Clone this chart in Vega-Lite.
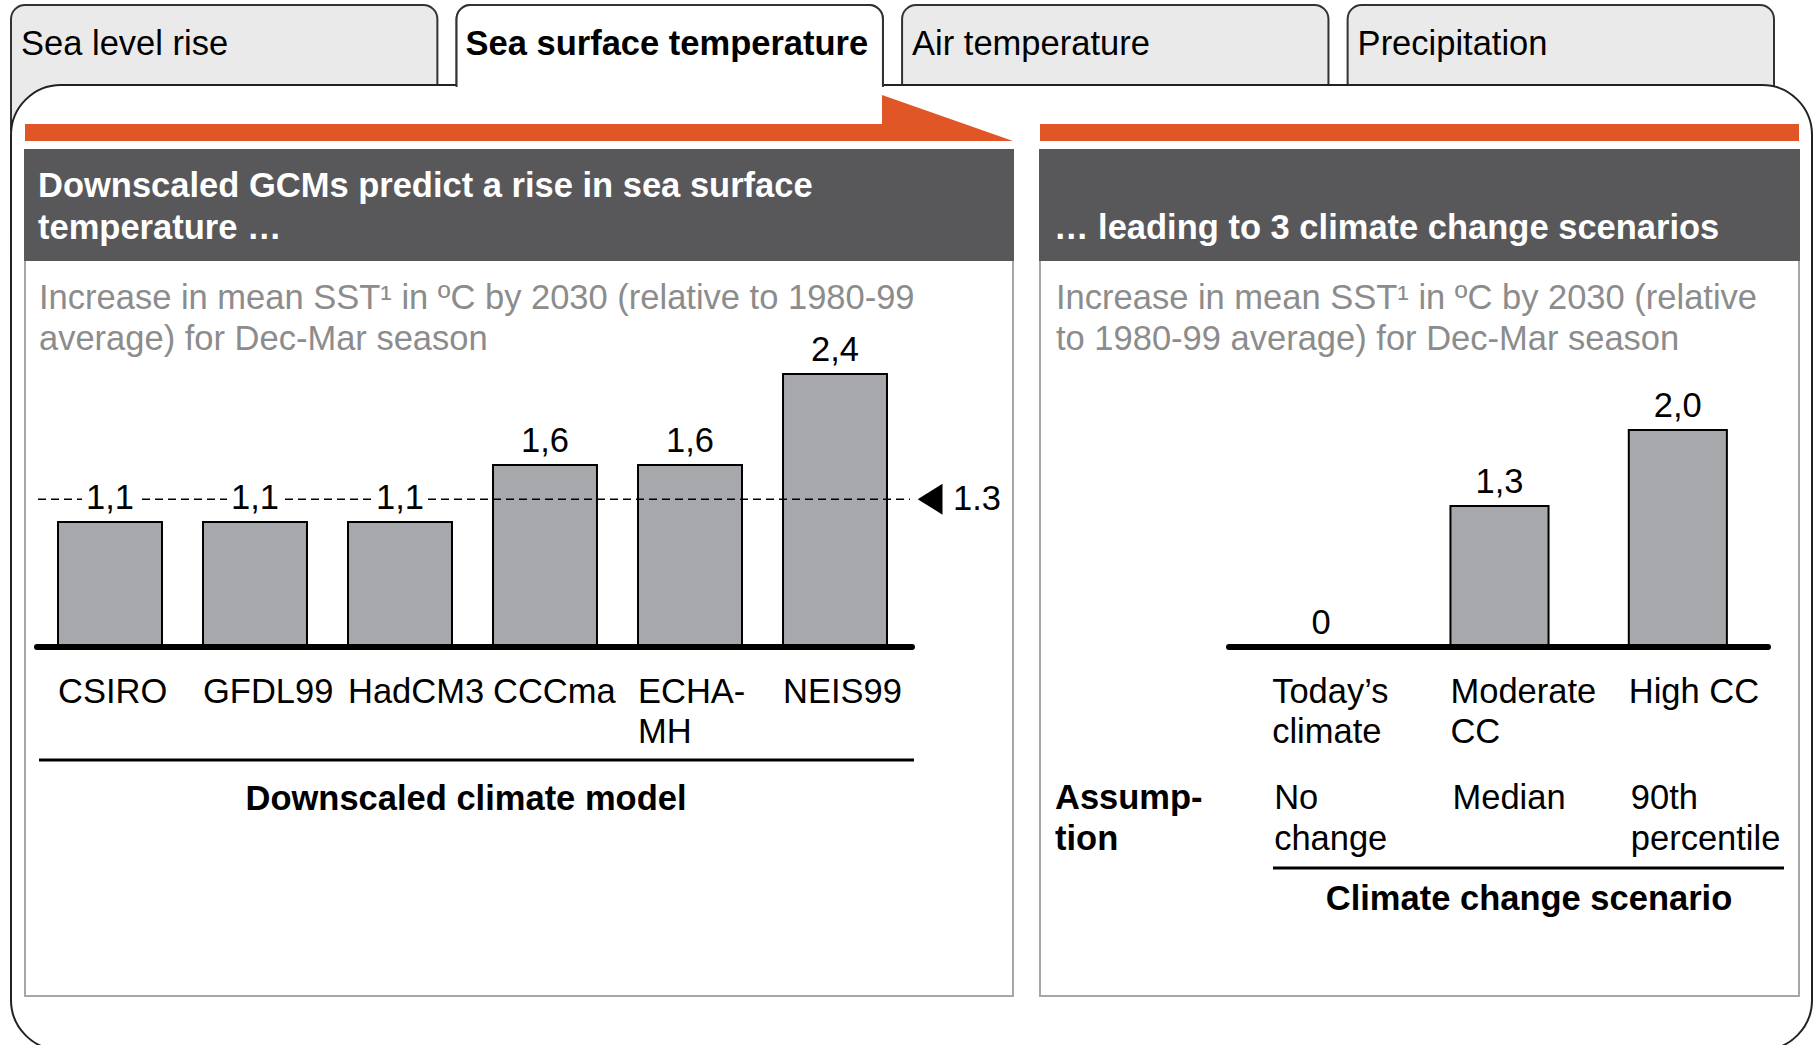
{
  "$schema": "https://vega.github.io/schema/vega-lite/v6.json",
  "width": 1814,
  "height": 1045,
  "padding": 0,
  "autosize": {"type": "none"},
  "background": "white",
  "config": {"view": {"stroke": null}, "font": "Liberation Sans", "text": {"font": "Liberation Sans", "fontSize": 34.5}},
  "datasets": {
    "tabs": [
      {"tab": "Sea level rise", "active": false},
      {"tab": "Sea surface temperature", "active": true},
      {"tab": "Air temperature", "active": false},
      {"tab": "Precipitation", "active": false}
    ],
    "models": [
      {"model": "CSIRO", "label": "CSIRO", "value": 1.1, "value_label": "1,1"},
      {"model": "GFDL99", "label": "GFDL99", "value": 1.1, "value_label": "1,1"},
      {"model": "HadCM3", "label": "HadCM3", "value": 1.1, "value_label": "1,1"},
      {"model": "CCCma", "label": "CCCma", "value": 1.6, "value_label": "1,6"},
      {"model": "ECHA-MH", "label": "ECHA-\nMH", "value": 1.6, "value_label": "1,6"},
      {"model": "NEIS99", "label": "NEIS99", "value": 2.4, "value_label": "2,4"}
    ],
    "scenarios": [
      {"scenario": "Today's climate", "label": "Today’s\nclimate", "assumption": "No\nchange", "value": 0, "value_label": "0"},
      {"scenario": "Moderate CC", "label": "Moderate\nCC", "assumption": "Median", "value": 1.3, "value_label": "1,3"},
      {"scenario": "High CC", "label": "High CC", "assumption": "90th\npercentile", "value": 2.0, "value_label": "2,0"}
    ]
  },
  "layer": [
    {
      "data": {"name": "tabs"},
      "mark": {"type": "rect", "cornerRadiusTopLeft": 14, "cornerRadiusTopRight": 14, "stroke": "#333333", "strokeWidth": 2, "fill": "#EAEAEA"},
      "encoding": {
        "x": {"field": "tab", "type": "nominal", "sort": null, "axis": null,
              "scale": {"type": "band", "domain": ["Sea level rise", "Sea surface temperature", "Air temperature", "Precipitation"], "range": [11, 1774], "paddingInner": 0.043, "paddingOuter": 0}},
        "y": {"value": 5},
        "y2": {"value": 130}
      }
    },
    {
      "data": {"values": [{}]},
      "mark": {"type": "rect", "fill": "white", "stroke": "#222222", "strokeWidth": 2, "cornerRadius": 50},
      "encoding": {"x": {"value": 11}, "x2": {"value": 1812}, "y": {"value": 85}, "y2": {"value": 1050}}
    },
    {
      "data": {"name": "tabs"},
      "transform": [{"filter": "datum.active"}],
      "mark": {"type": "rect", "cornerRadiusTopLeft": 14, "cornerRadiusTopRight": 14, "stroke": "#333333", "strokeWidth": 2, "fill": "white"},
      "encoding": {
        "x": {"field": "tab", "type": "nominal", "sort": null, "axis": null,
              "scale": {"type": "band", "domain": ["Sea level rise", "Sea surface temperature", "Air temperature", "Precipitation"], "range": [11, 1774], "paddingInner": 0.043, "paddingOuter": 0}},
        "y": {"value": 5},
        "y2": {"value": 100}
      }
    },
    {
      "data": {"name": "tabs"},
      "transform": [{"filter": "datum.active"}],
      "mark": {"type": "rect", "stroke": "white", "strokeWidth": 4, "fill": "white"},
      "encoding": {
        "x": {"field": "tab", "type": "nominal", "sort": null, "axis": null,
              "scale": {"type": "band", "domain": ["Sea level rise", "Sea surface temperature", "Air temperature", "Precipitation"], "range": [11, 1774], "paddingInner": 0.043, "paddingOuter": 0}},
        "y": {"value": 89},
        "y2": {"value": 106}
      }
    },
    {
      "data": {"name": "tabs"},
      "transform": [{"filter": "!datum.active"}],
      "mark": {"type": "text", "align": "left", "baseline": "alphabetic", "dx": 10, "fill": "black", "fontSize": 34.5},
      "encoding": {
        "x": {"field": "tab", "type": "nominal", "sort": null, "axis": null, "bandPosition": 0,
              "scale": {"type": "band", "domain": ["Sea level rise", "Sea surface temperature", "Air temperature", "Precipitation"], "range": [11, 1774], "paddingInner": 0.043, "paddingOuter": 0}},
        "y": {"value": 55},
        "text": {"field": "tab"}
      }
    },
    {
      "data": {"name": "tabs"},
      "transform": [{"filter": "datum.active"}],
      "mark": {"type": "text", "align": "left", "baseline": "alphabetic", "dx": 9, "fill": "black", "fontSize": 34.5, "fontWeight": "bold"},
      "encoding": {
        "x": {"field": "tab", "type": "nominal", "sort": null, "axis": null, "bandPosition": 0,
              "scale": {"type": "band", "domain": ["Sea level rise", "Sea surface temperature", "Air temperature", "Precipitation"], "range": [11, 1774], "paddingInner": 0.043, "paddingOuter": 0}},
        "y": {"value": 55},
        "text": {"field": "tab"}
      }
    },
    {
      "data": {"values": [{}]},
      "layer": [
        {"mark": {"type": "rect", "fill": "#E05627"}, "encoding": {"x": {"value": 25}, "x2": {"value": 886}, "y": {"value": 124}, "y2": {"value": 141}}},
        {"mark": {"type": "point", "shape": "M-1,-0.351L1,0.351L-1,0.351Z", "size": 17161, "filled": true, "fill": "#E05627", "opacity": 1, "strokeWidth": 0}, "encoding": {"x": {"value": 947.5}, "y": {"value": 118}}},
        {"mark": {"type": "rect", "fill": "#E05627"}, "encoding": {"x": {"value": 1040}, "x2": {"value": 1799}, "y": {"value": 124}, "y2": {"value": 141}}},
        {"mark": {"type": "rect", "fill": "white", "stroke": "#A6A6A6", "strokeWidth": 2}, "encoding": {"x": {"value": 25}, "x2": {"value": 1013}, "y": {"value": 150}, "y2": {"value": 996}}},
        {"mark": {"type": "rect", "fill": "white", "stroke": "#A6A6A6", "strokeWidth": 2}, "encoding": {"x": {"value": 1040}, "x2": {"value": 1799}, "y": {"value": 150}, "y2": {"value": 996}}},
        {"mark": {"type": "rect", "fill": "#58585A"}, "encoding": {"x": {"value": 24}, "x2": {"value": 1014}, "y": {"value": 149}, "y2": {"value": 261}}},
        {"mark": {"type": "rect", "fill": "#58585A"}, "encoding": {"x": {"value": 1039}, "x2": {"value": 1800}, "y": {"value": 149}, "y2": {"value": 261}}},
        {"mark": {"type": "text", "align": "left", "baseline": "alphabetic", "fill": "white", "fontWeight": "bold", "fontSize": 34.5, "lineBreak": "\n", "lineHeight": 42},
         "encoding": {"x": {"value": 38}, "y": {"value": 197}, "text": {"value": "Downscaled GCMs predict a rise in sea surface\ntemperature …"}}},
        {"mark": {"type": "text", "align": "left", "baseline": "alphabetic", "fill": "white", "fontWeight": "bold", "fontSize": 34.5},
         "encoding": {"x": {"value": 1054}, "y": {"value": 239}, "text": {"value": "… leading to 3 climate change scenarios"}}},
        {"mark": {"type": "text", "align": "left", "baseline": "alphabetic", "fill": "#8C8C8C", "fontSize": 34.5, "lineBreak": "\n", "lineHeight": 41},
         "encoding": {"x": {"value": 39}, "y": {"value": 309}, "text": {"value": "Increase in mean SST¹ in ºC by 2030 (relative to 1980-99\naverage) for Dec-Mar season"}}},
        {"mark": {"type": "text", "align": "left", "baseline": "alphabetic", "fill": "#8C8C8C", "fontSize": 34.5, "lineBreak": "\n", "lineHeight": 41},
         "encoding": {"x": {"value": 1056}, "y": {"value": 309}, "text": {"value": "Increase in mean SST¹ in ºC by 2030 (relative\nto 1980-99 average) for Dec-Mar season"}}}
      ]
    },
    {
      "data": {"name": "models"},
      "encoding": {
        "x": {"field": "model", "type": "nominal", "sort": null, "axis": null,
              "scale": {"type": "band", "range": [37.5, 907.5], "paddingInner": 0.283, "paddingOuter": 0.1415}}
      },
      "layer": [
        {
          "mark": {"type": "bar", "fill": "#A7A8AB", "stroke": "black", "strokeWidth": 2},
          "encoding": {"y": {"field": "value", "type": "quantitative", "axis": null, "scale": {"domain": [0, 2.4], "range": [647, 374], "nice": false, "zero": true}}}
        },
        {
          "data": {"values": [{}]},
          "mark": {"type": "rule", "strokeWidth": 6, "strokeCap": "round", "color": "black"},
          "encoding": {"x": {"value": 37}, "x2": {"value": 912}, "y": {"datum": 0, "type": "quantitative"}}
        },
        {
          "data": {"values": [{"median": 1.3}]},
          "layer": [
            {"mark": {"type": "rule", "strokeDash": [8, 5], "strokeWidth": 1.5, "color": "black"},
             "encoding": {"x": {"value": 38}, "x2": {"value": 910}, "y": {"field": "median", "type": "quantitative"}}},
            {"mark": {"type": "point", "shape": "M1,-1L1,1L-0.6,0Z", "size": 961, "filled": true, "fill": "black", "opacity": 1, "strokeWidth": 0},
             "encoding": {"x": {"value": 927}, "y": {"field": "median", "type": "quantitative"}}},
            {"mark": {"type": "text", "align": "left", "baseline": "middle", "fontSize": 34.5, "dy": 1, "fill": "black"},
             "encoding": {"x": {"value": 953}, "y": {"field": "median", "type": "quantitative"}, "text": {"field": "median", "type": "quantitative", "format": ".1f"}}}
          ]
        },
        {
          "mark": {"type": "point", "shape": "M-1,-0.55L1,-0.55L1,0.55L-1,0.55Z", "size": 3136, "filled": true, "fill": "white", "opacity": 1, "strokeWidth": 0},
          "encoding": {"y": {"field": "value", "type": "quantitative"}, "yOffset": {"value": -25}}
        },
        {
          "mark": {"type": "text", "baseline": "alphabetic", "dy": -13, "fontSize": 34.5, "fill": "black"},
          "encoding": {"y": {"field": "value", "type": "quantitative"}, "text": {"field": "value_label"}}
        },
        {
          "mark": {"type": "text", "align": "left", "baseline": "alphabetic", "fontSize": 34.5, "fill": "black", "lineBreak": "\n", "lineHeight": 40},
          "encoding": {"x": {"field": "model", "type": "nominal", "sort": null, "axis": null, "bandPosition": 0}, "y": {"value": 703}, "text": {"field": "label"}}
        },
        {
          "data": {"values": [{}]},
          "mark": {"type": "rule", "strokeWidth": 3, "color": "black"},
          "encoding": {"x": {"value": 39}, "x2": {"value": 914}, "y": {"value": 760}}
        },
        {
          "data": {"values": [{}]},
          "mark": {"type": "text", "align": "center", "baseline": "alphabetic", "fontSize": 34.5, "fontWeight": "bold", "fill": "black"},
          "encoding": {"x": {"value": 466}, "y": {"value": 810}, "text": {"value": "Downscaled climate model"}}
        }
      ]
    },
    {
      "data": {"name": "scenarios"},
      "encoding": {
        "x": {"field": "scenario", "type": "nominal", "sort": null, "axis": null,
              "scale": {"type": "band", "range": [1232, 1767], "paddingInner": 0.45, "paddingOuter": 0.225}}
      },
      "layer": [
        {
          "mark": {"type": "bar", "fill": "#A7A8AB", "stroke": "black", "strokeWidth": 2},
          "encoding": {"y": {"field": "value", "type": "quantitative", "axis": null, "scale": {"domain": [0, 2], "range": [647, 430], "nice": false, "zero": true}}}
        },
        {
          "data": {"values": [{}]},
          "mark": {"type": "rule", "strokeWidth": 6, "strokeCap": "round", "color": "black"},
          "encoding": {"x": {"value": 1229}, "x2": {"value": 1768}, "y": {"datum": 0, "type": "quantitative"}}
        },
        {
          "mark": {"type": "text", "baseline": "alphabetic", "dy": -13, "fontSize": 34.5, "fill": "black"},
          "encoding": {"y": {"field": "value", "type": "quantitative"}, "text": {"field": "value_label"}}
        },
        {
          "mark": {"type": "text", "align": "left", "baseline": "alphabetic", "fontSize": 34.5, "fill": "black", "lineBreak": "\n", "lineHeight": 40},
          "encoding": {"x": {"field": "scenario", "type": "nominal", "sort": null, "axis": null, "bandPosition": 0}, "y": {"value": 703}, "text": {"field": "label"}}
        },
        {
          "mark": {"type": "text", "align": "left", "baseline": "alphabetic", "fontSize": 34.5, "fill": "black", "lineBreak": "\n", "lineHeight": 41, "dx": 2},
          "encoding": {"x": {"field": "scenario", "type": "nominal", "sort": null, "axis": null, "bandPosition": 0}, "y": {"value": 809}, "text": {"field": "assumption"}}
        },
        {
          "data": {"values": [{}]},
          "mark": {"type": "text", "align": "left", "baseline": "alphabetic", "fontSize": 34.5, "fontWeight": "bold", "fill": "black", "lineBreak": "\n", "lineHeight": 41},
          "encoding": {"x": {"value": 1055}, "y": {"value": 809}, "text": {"value": "Assump-\ntion"}}
        },
        {
          "data": {"values": [{}]},
          "mark": {"type": "rule", "strokeWidth": 3, "color": "black"},
          "encoding": {"x": {"value": 1273}, "x2": {"value": 1784}, "y": {"value": 868}}
        },
        {
          "data": {"values": [{}]},
          "mark": {"type": "text", "align": "center", "baseline": "alphabetic", "fontSize": 34.5, "fontWeight": "bold", "fill": "black"},
          "encoding": {"x": {"value": 1529}, "y": {"value": 910}, "text": {"value": "Climate change scenario"}}
        }
      ]
    }
  ],
  "resolve": {"scale": {"x": "independent", "y": "independent"}}
}
